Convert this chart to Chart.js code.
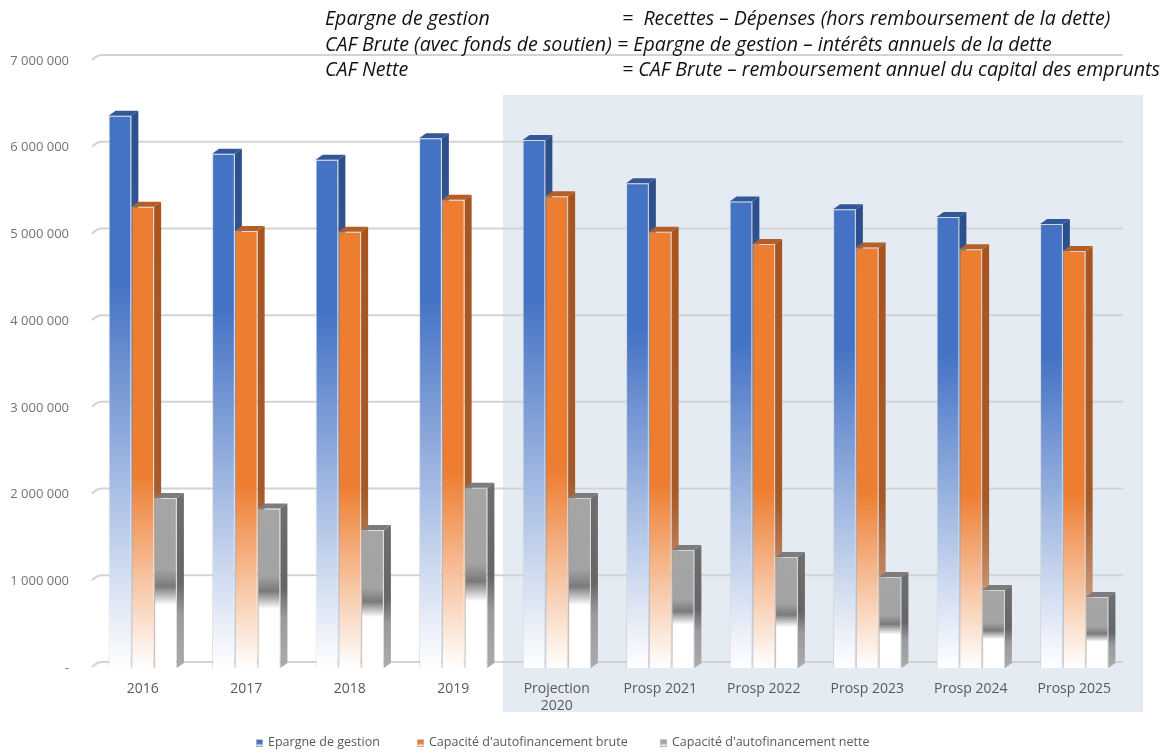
<!DOCTYPE html>
<html lang="fr">
<head>
<meta charset="utf-8">
<title>Epargne de gestion et CAF</title>
<script src="https://cdn.jsdelivr.net/npm/chart.js@4.4.1/dist/chart.umd.min.js"></script>
<style>
  html, body { margin: 0; padding: 0; background: #fff; }
  #wrap { position: relative; width: 1168px; height: 753px; overflow: hidden; }
  #graphique { position: absolute; left: 0; top: 0; }
  .definitions { position: absolute; left: 0; top: 0; font-family: "Open Sans", sans-serif;
    font-style: italic; font-size: 19.6px; color: #111; line-height: 25.5px; }
  .definitions div, .legende div { position: absolute; white-space: nowrap; }
  .legende { position: absolute; left: 0; top: 733px; font-family: "Open Sans", sans-serif;
    font-size: 12.5px; color: #595959; line-height: 18px; }
  .legende span { display: inline-block; width: 7px; height: 8px; margin-right: 5px;
    vertical-align: -1px; border: 1px solid rgba(190,190,190,0.7); box-sizing: border-box; }
</style>
</head>
<body>
<div id="wrap">
  <canvas id="graphique" width="1168" height="753"></canvas>
  <div class="definitions">
    <div style="left:325px; top:5px">Epargne de gestion</div>
    <div style="left:622px; top:5px">=&nbsp; Recettes – Dépenses (hors remboursement de la dette)</div>
    <div style="left:325px; top:31px">CAF Brute (avec fonds de soutien)</div>
    <div style="left:617px; top:31px">= Epargne de gestion – intérêts annuels de la dette</div>
    <div style="left:325px; top:56px">CAF Nette</div>
    <div style="left:622px; top:56px">= CAF Brute – remboursement annuel du capital des emprunts</div>
  </div>
  <div class="legende" id="legende"></div>
</div>
<script>
// Années et prospective
const categories = ["2016", "2017", "2018", "2019", ["Projection", "2020"],
  "Prosp 2021", "Prosp 2022", "Prosp 2023", "Prosp 2024", "Prosp 2025"];

const epargneGestion = [6370000, 5930000, 5860000, 6110000, 6090000, 5590000, 5380000, 5290000, 5200000, 5120000];
const cafBrute = [5320000, 5040000, 5030000, 5400000, 5440000, 5030000, 4890000, 4850000, 4830000, 4810000];
const cafNette = [1960000, 1840000, 1590000, 2080000, 1960000, 1360000, 1280000, 1050000, 900000, 820000];

const yMax = 7000000;
const yStep = 1000000;
// premier index de la partie projetée (fond grisé)
const debutProjection = 4;

// profondeur de l'effet 3D
const DX = 7;
const DY = 5;

const couleurs = ["#4472C4", "#ED7D31", "#A5A5A5"];

const formatMontant = (v) => v === 0 ? "-" : String(v).replace(/\B(?=(\d{3})+(?!\d))/g, " ");

// dégradé vertical de la face avant, du haut de la barre jusqu'à zéro
const degradeFace = (stops, plein) => (context) => {
  const chart = context.chart;
  if (!chart.chartArea || context.type !== "data") return plein;
  const y = chart.scales.y;
  const g = chart.ctx.createLinearGradient(0, y.getPixelForValue(context.raw), 0, y.getPixelForValue(0));
  stops.forEach(([o, c]) => g.addColorStop(o, c));
  return g;
};

const styles3D = [
  { cote: [[0, "#2C4F8C"], [0.5, "#3A5E9E"], [1, "#C9D5EC"]], dessus: "#335899" },
  { cote: [[0, "#A9541E"], [0.6, "#A65A28"], [1, "#E3C3AC"]], dessus: "#B45F26" },
  { cote: [[0, "#6E6E6E"], [0.5, "#666666"], [0.68, "#9A9A9A"], [1, "#ABABAB"]], dessus: "#7C7C7C" },
];

// fond bleuté de la période projetée
const fondProjection = {
  id: "fondProjection",
  beforeDraw(chart) {
    const { ctx, chartArea, scales: { x, y } } = chart;
    const pas = x.getPixelForValue(1) - x.getPixelForValue(0);
    const gauche = x.getPixelForValue(debutProjection) - pas / 2 - 2;
    const haut = y.getPixelForValue(yMax) + 34;
    ctx.save();
    ctx.fillStyle = "#E4EBF2";
    ctx.fillRect(gauche, haut, chartArea.right + 17 - gauche, chartArea.bottom + 44 - haut);
    ctx.restore();
  },
};

// quadrillage sur le mur du fond, puis côtés et dessus des colonnes
const decor3D = {
  id: "decor3D",
  beforeDatasetsDraw(chart) {
    const { ctx, chartArea, scales: { y } } = chart;
    ctx.save();
    ctx.strokeStyle = "#D3D3D3";
    ctx.lineWidth = 2;
    for (let v = 0; v <= yMax; v += yStep) {
      const py = y.getPixelForValue(v) - 6;
      ctx.beginPath();
      ctx.moveTo(chartArea.left + 1, py + 5);
      ctx.quadraticCurveTo(chartArea.left + 6, py, chartArea.left + 11, py);
      ctx.lineTo(chartArea.right - 3, py);
      ctx.stroke();
    }

    chart.data.datasets.forEach((ds, i) => {
      const meta = chart.getDatasetMeta(i);
      const st = styles3D[i];
      meta.data.forEach((el) => {
        const { x, y: top, base, width } = el.getProps(["x", "y", "base", "width"], true);
        const droite = x + width / 2;
        const gauche = x - width / 2;

        const g = ctx.createLinearGradient(0, top, 0, base);
        st.cote.forEach(([o, c]) => g.addColorStop(o, c));
        ctx.fillStyle = g;
        ctx.beginPath();
        ctx.moveTo(droite, top);
        ctx.lineTo(droite + DX, top - DY);
        ctx.lineTo(droite + DX, base - DY);
        ctx.lineTo(droite, base);
        ctx.closePath();
        ctx.fill();

        ctx.fillStyle = st.dessus;
        ctx.beginPath();
        ctx.moveTo(gauche, top);
        ctx.lineTo(gauche + DX, top - DY);
        ctx.lineTo(droite + DX, top - DY);
        ctx.lineTo(droite, top);
        ctx.closePath();
        ctx.fill();
      });
    });
    ctx.restore();
  },
};

const ctx = document.getElementById("graphique").getContext("2d");

const graphique = new Chart(ctx, {
  type: "bar",
  data: {
    labels: categories,
    datasets: [
      {
        label: "Epargne de gestion",
        data: epargneGestion,
        backgroundColor: degradeFace([[0, couleurs[0]], [0.3, couleurs[0]], [1, "#FFFFFF"]], couleurs[0]),
      },
      {
        label: "Capacité d'autofinancement brute",
        data: cafBrute,
        backgroundColor: degradeFace([[0, couleurs[1]], [0.58, couleurs[1]], [1, "#FFFFFF"]], couleurs[1]),
      },
      {
        label: "Capacité d'autofinancement nette",
        data: cafNette,
        backgroundColor: degradeFace([[0, couleurs[2]], [0.42, "#A3A3A3"], [0.52, "#7A7A7A"], [0.63, "#FFFFFF"], [1, "#FFFFFF"]], couleurs[2]),
      },
    ],
  },
  options: {
    responsive: false,
    animation: false,
    layout: { padding: { top: 61, right: 42, left: 0, bottom: 25 } },
    datasets: {
      bar: {
        barPercentage: 1,
        categoryPercentage: 0.66,
        borderWidth: 1,
        borderColor: "rgba(200,200,200,0.6)",
      },
    },
    scales: {
      x: {
        grid: { display: false, drawTicks: false },
        border: { display: false },
        ticks: {
          color: "#595959",
          font: { family: "'Open Sans', sans-serif", size: 14, lineHeight: 1.25 },
          padding: 12,
          maxRotation: 0,
          autoSkip: false,
        },
        afterFit: (scale) => { scale.height = 60; },
      },
      y: {
        min: 0,
        max: yMax,
        grid: { display: false, drawTicks: false },
        border: { display: false },
        ticks: {
          stepSize: yStep,
          color: "#737373",
          font: { family: "'Open Sans', sans-serif", size: 13 },
          padding: 22,
          callback: (v) => formatMontant(v),
        },
        afterFit: (scale) => { scale.width = 91; },
      },
    },
    plugins: {
      legend: { display: false },
      tooltip: { enabled: false },
    },
  },
  plugins: [fondProjection, decor3D],
});

// légende sous le graphique, reprise des séries
const positionsLegende = [256, 417, 660];
const legende = document.getElementById("legende");
graphique.data.datasets.forEach((ds, i) => {
  const item = document.createElement("div");
  item.style.left = positionsLegende[i] + "px";
  const carre = document.createElement("span");
  carre.style.background = "linear-gradient(" + couleurs[i] + " 55%, #ffffff)";
  item.appendChild(carre);
  item.appendChild(document.createTextNode(ds.label));
  legende.appendChild(item);
});
</script>
</body>
</html>
